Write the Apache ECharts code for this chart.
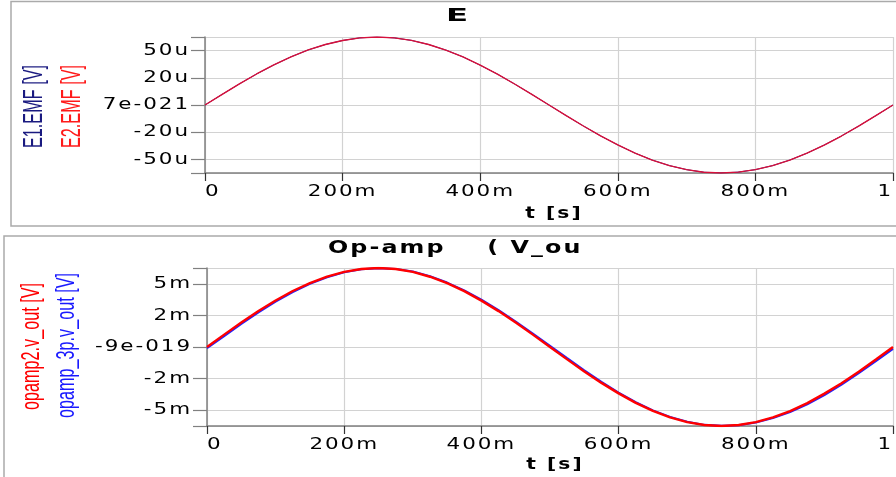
<!DOCTYPE html>
<html><head><meta charset="utf-8">
<script src="https://cdn.jsdelivr.net/npm/echarts@6/dist/echarts.min.js"></script>
<style>html,body{margin:0;padding:0;background:#fff}#c{width:896px;height:477px}</style>
</head><body><div id="c"></div>
<script>
// ---- data ----
const tValues = [0,0.025,0.05,0.075,0.1,0.125,0.15,0.175,0.2,0.225,0.25,0.275,0.3,0.325,0.35,0.375,0.4,0.425,0.45,0.475,0.5,
  0.525,0.55,0.575,0.6,0.625,0.65,0.675,0.7,0.725,0.75,0.775,0.8,0.825,0.85,0.875,0.9,0.925,0.95,0.975,1];
// E panel, microvolts
const e1Values = [0,9.8,19.4,28.5,36.8,44.3,50.6,55.6,59.3,61.7,62.5,61.7,59.4,55.6,50.5,44.2,36.6,28.4,19.3,9.8,0,
  -9.8,-19.3,-28.4,-36.7,-44.2,-50.6,-55.7,-59.4,-61.8,-62.5,-61.7,-59.4,-55.7,-50.6,-44.3,-36.8,-28.5,-19.4,-9.8,0];
const e2Values = [0,9.8,19.4,28.5,36.8,44.3,50.6,55.6,59.3,61.7,62.5,61.7,59.4,55.6,50.5,44.2,36.6,28.4,19.3,9.8,0,
  -9.8,-19.3,-28.4,-36.7,-44.2,-50.6,-55.7,-59.4,-61.8,-62.5,-61.7,-59.4,-55.7,-50.6,-44.3,-36.8,-28.5,-19.4,-9.8,0];
// Op-amp panel, millivolts
const opamp2Values  = [0,0.98,1.94,2.85,3.68,4.43,5.06,5.57,5.94,6.17,6.25,6.17,5.94,5.56,5.05,4.42,3.67,2.84,1.93,0.98,0,
  -0.98,-1.93,-2.84,-3.67,-4.42,-5.06,-5.57,-5.94,-6.17,-6.25,-6.17,-5.94,-5.57,-5.07,-4.44,-3.69,-2.86,-1.95,-0.99,0];
const opamp3pValues = [-0.1,0.85,1.82,2.74,3.58,4.34,5.0,5.52,5.91,6.15,6.23,6.18,5.97,5.6,5.1,4.48,3.75,2.92,2.02,1.07,0.1,
  -0.88,-1.84,-2.76,-3.6,-4.36,-5.01,-5.53,-5.92,-6.16,-6.23,-6.19,-5.98,-5.62,-5.14,-4.53,-3.8,-2.98,-2.07,-1.12,-0.15];
// ticks
const xTickLabels = ['0','200m','400m','600m','800m','1'];
const eTickValues = [-50,-25,0,25,50];
const eTickLabels = ['-50u','-20u','7e-021','20u','50u'];
const eRange = [-62.5, 62.5];
const opTickValues = [-5,-2.5,0,2.5,5];
const opTickLabels = ['-5m','-2m','-9e-019','2m','5m'];
const opRange = [-6.25, 6.25];

// wide (expanded) look of the original's fonts: stretch DejaVu text horizontally around its anchor
function stretchFor(font) {
  if (font.indexOf('DejaVu') < 0) return null;
  const bold = /bold|700/.test(font);
  const m = /(\d+(?:\.\d+)?)px/.exec(font); const size = m ? +m[1] : 12;
  if (bold && size >= 18) return { sx: 1.8, ls: 0 };
  if (bold && size >= 17) return { sx: 1.4, ls: 1.5 };
  if (bold) return { sx: 1.35, ls: 1.5 };
  return { sx: 1.3, ls: 1.5 };
}
const origFill = CanvasRenderingContext2D.prototype.fillText;
CanvasRenderingContext2D.prototype.fillText = function (text, x, y, maxW) {
  const s = stretchFor(this.font);
  if (!s) { this.letterSpacing = '0px'; return origFill.call(this, text, x, y); }
  this.save();
  this.letterSpacing = s.ls + 'px';
  this.translate(x, y); this.scale(s.sx, 1);
  origFill.call(this, text, 0, 0);
  this.restore();
};

const chart = echarts.init(document.getElementById('c'), null, {renderer:'canvas'});

function measure(text, font) {
  const ctx = document.createElement('canvas').getContext('2d');
  ctx.font = font;
  return ctx.measureText(text).width;
}
function vText(text, cx, cy, len, size, color) {
  const font = size + 'px "Liberation Sans"';
  const w = measure(text, font);
  return { type:'text', x: cx, y: cy, rotation: Math.PI/2, scaleX: len / w, scaleY: 1,
    style: { text, font, fill: color, align:'center', verticalAlign:'middle', textAlign:'center', textVerticalAlign:'middle' } };
}
const pairs = (ys) => tValues.map((t,i) => [t, ys[i]]);
const lbl = (vals, labs) => (v) => { const i = vals.findIndex(x => Math.abs(x - v) < 1e-9); return i >= 0 ? labs[i] : ''; };
const xFmt = (v) => xTickLabels[Math.round(v / 0.2)];

const axisColor = '#808080', gridColor = '#d2d2d2';
const tickFont = { fontFamily: 'DejaVu Sans', fontSize: 16.5, color: '#000' };

function xAxis(gridIndex, gap) {
  return { type:'value', gridIndex, min:0, max:1, interval:0.2,
    name:'t [s]', nameLocation:'middle', nameGap:gap,
    nameTextStyle:{ fontFamily:'DejaVu Sans', fontWeight:'bold', fontSize:15, color:'#000', padding:[0,0,0,10] },
    axisLine:{ show:true, onZero:false, lineStyle:{ color:axisColor, width:1.5 } },
    axisTick:{ show:true, length:8, lineStyle:{ color:'#333', width:1.2 } },
    axisLabel:{ ...tickFont, margin:10, formatter:xFmt, alignMinLabel:'left', alignMaxLabel:'right' },
    splitLine:{ show:true, lineStyle:{ color:gridColor, width:1.2 } } };
}
function yAxis(gridIndex, range, vals, labs) {
  return { type:'value', gridIndex, min:range[0], max:range[1],
    axisLine:{ show:true, lineStyle:{ color:axisColor, width:1.5 } },
    axisTick:{ show:true, length:14, customValues:[range[0], ...vals, range[1]], lineStyle:{ color:axisColor, width:1.2 } },
    axisLabel:{ ...tickFont, margin:15, customValues: vals, formatter: lbl(vals, labs) },
    splitLine:{ show:true, lineStyle:{ color:gridColor, width:1.2 } } };
}

chart.setOption({
  animation:false,
  backgroundColor:'#fff',
  grid:[
    { left:205, right:1, top:37, bottom:304 },
    { left:207, right:-3, top:268, bottom:51 }
  ],
  xAxis:[ xAxis(0, 34), xAxis(1, 32) ],
  yAxis:[ yAxis(0, eRange, eTickValues, eTickLabels), yAxis(1, opRange, opTickValues, opTickLabels) ],
  series:[
    { name:'E1.EMF', type:'line', xAxisIndex:0, yAxisIndex:0, data:pairs(e1Values), showSymbol:false, lineStyle:{ color:'#1a1a80', width:1.0 } },
    { name:'E2.EMF', type:'line', xAxisIndex:0, yAxisIndex:0, data:pairs(e2Values), showSymbol:false, lineStyle:{ color:'#d8103a', width:1.4 } },
    { name:'opamp_3p.v_out', type:'line', xAxisIndex:1, yAxisIndex:1, data:pairs(opamp3pValues), showSymbol:false, lineStyle:{ color:'#2020ff', width:2 } },
    { name:'opamp2.v_out', type:'line', xAxisIndex:1, yAxisIndex:1, data:pairs(opamp2Values), showSymbol:false, lineStyle:{ color:'#ff0000', width:2.4 } }
  ],
  graphic:[
    { type:'rect', shape:{ x:11, y:1.5, width:900, height:224.5 }, style:{ fill:'none', stroke:'#aaaaaa', lineWidth:1.5 }, z:-1 },
    { type:'rect', shape:{ x:4, y:236, width:900, height:260 }, style:{ fill:'none', stroke:'#aaaaaa', lineWidth:1.5 }, z:-1 },
    { type:'text', x:457, y:16, style:{ text:'E', font:'bold 18px "DejaVu Sans"', fill:'#000', align:'center', verticalAlign:'middle', textAlign:'center', textVerticalAlign:'middle' } },
    { type:'text', x:328, y:249, style:{ text:'Op-amp    ( V_ou', font:'bold 17px "DejaVu Sans"', fill:'#000', align:'left', verticalAlign:'middle', textAlign:'left', textVerticalAlign:'middle' } },
    vText('E1.EMF [V]', 34, 106.5, 83, 28, '#1a1a80'),
    vText('E2.EMF [V]', 72.5, 106.5, 83, 28, '#ff1a1a'),
    vText('opamp2.v_out [V]', 32, 346.5, 127, 26, '#ff0000'),
    vText('opamp_3p.v_out [V]', 67, 345.5, 145, 26, '#1a1aff')
  ]
});
</script></body></html>
